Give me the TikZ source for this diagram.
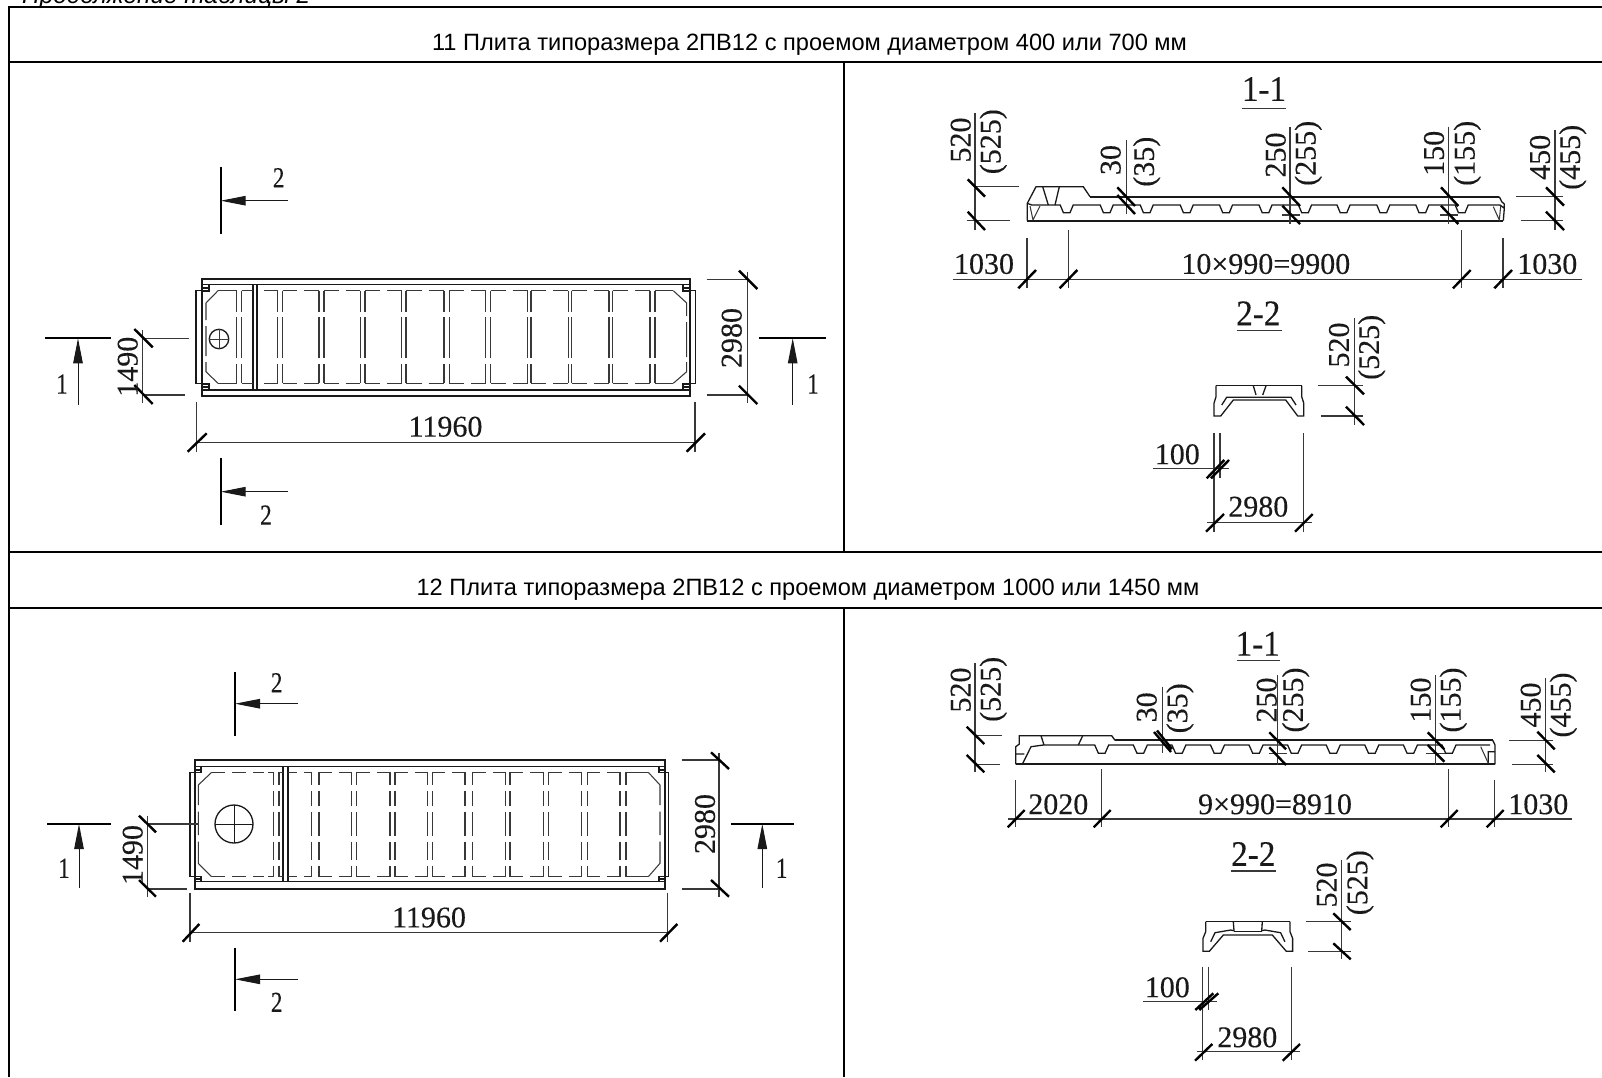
\documentclass[tikz,border=0pt]{standalone}
\usepackage{fontspec}
\setmainfont[FakeBold=0.25]{Liberation Serif}
\newfontfamily\sansf{Liberation Sans}
\usetikzlibrary{arrows.meta}
\definecolor{ink}{gray}{0.1}
\definecolor{soft}{gray}{0.22}
\newcount\lblno
\tikzset{
 frame/.style={line width=1.5pt,draw=black},
 dimline/.style={line width=1.1pt,draw=soft},
 tick/.style={line width=2.4pt,draw=black},
 part/.style={line width=1.3pt,draw=ink,line join=miter},
 partthick/.style={line width=1.7pt,draw=ink,line join=miter},
 thin part/.style={line width=1.05pt,draw=soft},
 secbar/.style={line width=2pt,draw=black},
 secarrow/.style={line width=1pt,draw=ink,-{Triangle[length=25pt,width=9.5pt]}},
 dimtxt/.style={inner sep=0pt,font=\fontsize{30}{30}\selectfont,text=ink},
 sectxt/.style={inner sep=0pt,font=\fontsize{29}{29}\selectfont,text=ink,xscale=.8},
 headtxt/.style={inner sep=0pt,font=\fontsize{36}{36}\selectfont,text=ink,xscale=.92},
 titletxt/.style={inner sep=0pt,font=\sansf\fontsize{23.6}{28}\selectfont,text=black},
 captxt/.style={inner sep=0pt,anchor=base west,font=\sansf\itshape\fontsize{24.3}{28}\selectfont,text=black},
}
\newcommand\lbl[3]{\global\advance\lblno by 1 \node[dimtxt] (lbl\the\lblno) at (#1,#2) {#3};}
\newcommand\vlbl[3]{\global\advance\lblno by 1 \node[dimtxt,rotate=90] (lbl\the\lblno) at (#1,#2) {#3};}
\newcommand\seclbl[3]{\global\advance\lblno by 1 \node[sectxt] (lbl\the\lblno) at (#1,#2) {#3};}
\newcommand\headlbl[3]{\global\advance\lblno by 1 \node[headtxt] (lbl\the\lblno) at (#1,#2) {#3};}
\begin{document}
\begin{tikzpicture}[x=1pt,y=-1pt]
\useasboundingbox (0,0) rectangle (1602,1077);
\clip (0,0) rectangle (1602,1077);
\fill[white] (0,0) rectangle (1602,1077);
% ---------- caption and table
\node[captxt] (cap) at (22,3.3) {Продолжение таблицы 2};
\draw[frame] (9,1077)--(9,7)--(1602,7);
\draw[frame] (9,62)--(1602,62) (9,552)--(1602,552) (9,608)--(1602,608);
\draw[frame] (844,62)--(844,552) (844,608)--(844,1077);
\node[titletxt] (title1) at (809.5,45) {11 Плита типоразмера 2ПВ12 с проемом диаметром 400 или 700 мм};
\node[titletxt] (title2) at (808,590) {12 Плита типоразмера 2ПВ12 с проемом диаметром 1000 или 1450 мм};
% ---------- PLAN 1
\draw[partthick] (202,279.3) rectangle (690,395.7);
\draw[part] (202,284.7)--(690,284.7) (202,390)--(690,390);
\draw[part] (202,290.7)--(196,290.7)--(196,383.3)--(202,383.3);
\draw[part] (690,290.7)--(695.7,290.7)--(695.7,383.3)--(690,383.3);
\draw[part] (202,291)--(209,291)--(209,285) (202,288)--(209,288);
\draw[part] (202,384)--(209,384)--(209,390) (202,387)--(209,387);
\draw[part] (690,291)--(683,291)--(683,285) (690,288)--(683,288);
\draw[part] (690,384)--(683,384)--(683,390) (690,387)--(683,387);
\draw[partthick] (252.7,285)--(252.7,390) (257.3,285)--(257.3,390);
\foreach \yy in {290.7,383.3}{
  \draw[thin part] (218,\yy)--(236.7,\yy) (241.7,\yy)--(252.7,\yy) (264,\yy)--(277.7,\yy) (655,\yy)--(673.3,\yy);
  \foreach \a/\b in {282.7/319,324/360.3,365/401.7,406/444,449.3/485.7,490.7/527.7,531/568.3,571.7/609,612.7/650}{
    \draw[thin part] (\a,\yy)--({(\a+\b)/2-3.5},\yy) ({(\a+\b)/2+3.5},\yy)--(\b,\yy);
  }
}
\foreach \xx in {236.7,241.7,277.7,282.7,319,324,360.3,365,401.7,406,444,449.3,485.7,490.7,527.7,531,568.3,571.7,609,612.7,650,655}{
  \draw[thin part] (\xx,290.7)--(\xx,311.7) (\xx,317.3)--(\xx,358.3) (\xx,364)--(\xx,383.3);
}
\draw[thin part] (218,290.7)--(206,303)--(206,320) (206,326)--(206,356) (206,362)--(206,371.7)--(218,383.3);
\draw[thin part] (673.3,290.7)--(686.7,303)--(686.7,316) (686.7,322)--(686.7,357) (686.7,362)--(686.7,371.7)--(673.3,383.3);
\draw[part] (219,339) circle (9.7);
\draw[line width=.5pt,draw=soft] (209.3,339)--(228.7,339) (219,329.3)--(219,348.7);
% section marks plan 1
\draw[secbar] (45,338.3)--(111,338.3) (759.3,338.3)--(826,338.3);
\draw[secarrow] (78,405)--(78,338.3);
\draw[secarrow] (792.7,405)--(792.7,338.3);
\seclbl{62}{384}{1} \seclbl{813}{384}{1}
\draw[secbar] (220.7,166.7)--(220.7,234) (220.7,458.3)--(220.7,525);
\draw[secarrow] (288,200.7)--(220.7,200.7);
\draw[secarrow] (288,491.7)--(220.7,491.7);
\seclbl{278.7}{177.7}{2} \seclbl{266}{515}{2}
% dims plan 1
\draw[dimline] (142.7,330)--(142.7,403) (142.7,338.3)--(189.3,338.3) (142.7,395)--(185,395);
\draw[tick] (134.3,329)--(152.7,347.3) (134.3,385)--(152.7,404);
\vlbl{127.7}{366.7}{1490}
\draw[dimline] (196.7,442.3)--(695,442.3) (196.7,401.7)--(196.7,451.7) (695,401.7)--(695,451.7);
\draw[tick] (187.7,451.7)--(206.7,433.3) (686.7,451.7)--(705,433.3);
\lbl{445.5}{426.7}{11960}
\draw[dimline] (747.3,271.7)--(747.3,403.3) (706.7,279.3)--(747.3,279.3) (706.7,395)--(747.3,395);
\draw[tick] (739,270.7)--(757.3,289) (739,385.7)--(757.3,404);
\vlbl{731.7}{338}{2980}
% ---------- SECTION 1-1 top
\headlbl{1264}{89}{1-1}
\draw[dimline] (1241.7,108.3)--(1286,108.3);
\draw[partthick] (1026.7,220.7)--(1503.3,220.7);
\draw[partthick] (1090,196.7)--(1499.3,196.7);
\draw[part] (1027.3,220.7)--(1027.3,203.3)--(1036,186.7)--(1083.3,186.7)--(1090,196.7);
\draw[part] (1042.7,186.7)--(1048.3,205) (1059.3,186.7)--(1055,205);
\draw[part] (1027.3,203.3)--(1031.7,205) \foreach \n in {1066.7,1106.7,1146.7,1186.7,1226,1265.5,1305,1343.5,1383.3,1422.3,1461.7}{ --(\n-6.5,205)--(\n-3.3,212.7)--(\n+3.3,212.7)--(\n+6.5,205)} --(1500,205);
\draw[thin part] (1030,206)--(1033,220) (1040,206)--(1033,220);
\draw[part] (1499.3,196.7)--(1501.7,201.7)--(1504.3,204)--(1504.3,208.3)--(1503.3,220.7) (1500,205)--(1504.3,208.3);
\draw[thin part] (1493.3,206.7)--(1499.3,220)--(1500.7,206);
% dims
\draw[dimline] (975,113.3)--(975,230) (975,186.7)--(1019.3,186.7) (966.7,220.7)--(1010,220.7);
\draw[tick] (967.7,179.3)--(985,196.7) (967.7,211.7)--(985,230);
\vlbl{960.7}{140}{520} \vlbl{993.3}{141.7}{(525)}
\draw[dimline] (1126.7,140)--(1126.7,214);
\draw[tick] (1117.3,187.3)--(1135,206) (1117.3,195)--(1135,214);
\vlbl{1110.7}{160}{30} \vlbl{1146.7}{161.7}{(35)}
\draw[dimline] (1290,126.7)--(1290,224) (1282,215)--(1300,215);
\draw[tick] (1282.3,187.3)--(1300,206) (1282.3,205.7)--(1300,224);
\vlbl{1275.7}{155}{250} \vlbl{1308.3}{153.3}{(255)}
\draw[dimline] (1448.7,126.7)--(1448.7,224) (1440,215)--(1458,215);
\draw[tick] (1441,187.3)--(1458.3,206) (1441,205.7)--(1458.3,224);
\vlbl{1434}{153.3}{150} \vlbl{1467.3}{153.3}{(155)}
\draw[dimline] (1555,130)--(1555,230) (1515.7,196.7)--(1563.3,196.7) (1520.7,220.7)--(1563.3,220.7);
\draw[tick] (1546,187.3)--(1564,205.7) (1546,211.7)--(1564,230);
\vlbl{1540}{157.3}{450} \vlbl{1572.7}{157.3}{(455)}
\draw[dimline] (952.7,279.3)--(1581.7,279.3) (1027,238.3)--(1027,288.3) (1068.3,230)--(1068.3,288.3) (1461.7,230)--(1461.7,288.3) (1503,238.3)--(1503,288.3);
\draw[tick] (1018.3,288.3)--(1036,270) (1059.6,288.3)--(1077.3,270) (1453,288.3)--(1470.7,270) (1494.3,288.3)--(1512,270);
\lbl{984}{264}{1030} \lbl{1265.8}{264}{10×990=9900} \lbl{1547.3}{264}{1030}
% ---------- SECTION 2-2 top
\headlbl{1258.3}{313.3}{2-2}
\draw[dimline] (1236.7,330.7)--(1282.3,330.7);
\draw[part] (1216,385.7)--(1301.7,385.7);
\draw[part] (1216,385.7)--(1216,396.7)--(1214,403.3)--(1214,416)--(1220.7,416)--(1233.3,400)--(1285.7,400)--(1297.7,416)--(1303.7,416)--(1303.7,403)--(1301.7,396.7)--(1301.7,385.7);
\draw[part] (1221.7,405)--(1226.7,397.3)--(1236,397.3)--(1282.7,397.3)--(1291,397.3)--(1296,405);
\draw[part] (1253.3,385.7)--(1256,395) (1266,385.7)--(1262.7,395);
\draw[dimline] (1354.3,318.3)--(1354.3,425) (1318.3,385.7)--(1363.3,385.7) (1320.7,416)--(1363.3,416);
\draw[tick] (1346,376.7)--(1364,394.3) (1346,406.7)--(1364,425);
\vlbl{1339}{345}{520} \vlbl{1371.7}{347.3}{(525)}
\draw[dimline] (1214,433.3)--(1214,531.7) (1220,433.3)--(1220,478.3) (1303.3,433.3)--(1303.3,531.7) (1153.3,468.3)--(1229,468.3) (1207,522.3)--(1311.7,522.3);
\draw[tick] (1206.7,478.3)--(1224.3,460) (1211,478.3)--(1229,460) (1206,531.7)--(1224,514) (1295,531.7)--(1312.7,514);
\lbl{1177.3}{454.3}{100} \lbl{1258.3}{506.7}{2980}
% ---------- PLAN 2
\draw[partthick] (195,760) rectangle (665,889);
\draw[part] (195,766.7)--(665,766.7) (195,881.7)--(665,881.7);
\draw[part] (195,772.3)--(190,772.3)--(190,876.7)--(195,876.7);
\draw[part] (665,772.3)--(668.3,772.3)--(668.3,876.7)--(665,876.7);
\draw[part] (195,772.5)--(201,772.5)--(201,767) (195,770)--(201,770);
\draw[part] (195,876.5)--(201,876.5)--(201,882) (195,879)--(201,879);
\draw[part] (665,772.5)--(659,772.5)--(659,767) (665,770)--(659,770);
\draw[part] (665,876.5)--(659,876.5)--(659,882) (665,879)--(659,879);
\draw[partthick] (283.3,766.7)--(283.3,881.7) (288.3,766.7)--(288.3,881.7);
\foreach \yy in {772.3,876.7}{
  \draw[thin part] (211.7,\yy)--(225,\yy) (232,\yy)--(246,\yy) (253,\yy)--(264,\yy) (268,\yy)--(273.3,\yy) (279,\yy)--(283.3,\yy) (626,\yy)--(648.3,\yy);
  \foreach \a/\b in {288.3/311.7,319/351.7,356.7/390,395/427.3,432.3/465,472.7/505.7,510/543.3,548.3/581.7,587.3/620}{
    \draw[thin part] (\a,\yy)--({(\a+\b)/2-3.5},\yy) ({(\a+\b)/2+3.5},\yy)--(\b,\yy);
  }
}
\foreach \xx in {273.3,279,311.7,319,351.7,356.7,390,395,427.3,432.3,465,472.7,505.7,510,543.3,548.3,581.7,587.3,620,626}{
  \draw[thin part] (\xx,772.3)--(\xx,785) (\xx,790.7)--(\xx,805.7) (\xx,811.7)--(\xx,835.7) (\xx,841.7)--(\xx,860) (\xx,865.7)--(\xx,876.7);
}
\draw[thin part] (211.7,772.3)--(198.3,785)--(198.3,805) (198.3,811.7)--(198.3,835) (198.3,841.7)--(198.3,863.3)--(211.7,876.7);
\draw[thin part] (648.3,772.3)--(660,785)--(660,805) (660,811.7)--(660,835) (660,841.7)--(660,863.3)--(648.3,876.7);
\draw[part] (234,824) circle (19);
\draw[line width=.6pt,draw=ink] (215,824)--(253,824) (234,805)--(234,843);
% section marks plan 2
\draw[secbar] (47.3,824)--(111,824) (730.7,824)--(794.3,824);
\draw[secarrow] (79,887.7)--(79,824);
\draw[secarrow] (762.3,887.7)--(762.3,824);
\seclbl{64}{868.3}{1} \seclbl{781.7}{868.3}{1}
\draw[secbar] (235,672.3)--(235,735.7) (235,948.3)--(235,1011);
\draw[secarrow] (297.7,703.7)--(235,703.7);
\draw[secarrow] (297.7,979.3)--(235,979.3);
\seclbl{276.7}{682.7}{2} \seclbl{276.7}{1002.3}{2}
% dims plan 2
\draw[dimline] (147.7,815.7)--(147.7,896.7) (147.7,824)--(198,824) (147.7,889)--(186.7,889);
\draw[tick] (139,815.7)--(156,832.3) (139,880)--(156,896.7);
\vlbl{132.7}{855}{1490}
\draw[dimline] (190,932.3)--(667.7,932.3) (190,892.7)--(190,941.7) (667.7,892.7)--(667.7,941.7);
\draw[tick] (182.7,941.7)--(199.3,924) (660,941.7)--(677.3,924);
\lbl{429}{917.5}{11960}
\draw[dimline] (719,753.3)--(719,896.7) (681.7,760)--(719,760) (681.7,889)--(719,889);
\draw[tick] (711,752.3)--(729,769) (711,880)--(729,896.7);
\vlbl{705}{824}{2980}
% ---------- SECTION 1-1 bottom
\headlbl{1257.7}{643.7}{1-1}
\draw[dimline] (1236.7,660.7)--(1280,660.7);
\draw[partthick] (1015.7,764.3)--(1495,764.3);
\draw[partthick] (1115,740.3)--(1492.7,740.3);
\draw[part] (1015.7,764.3)--(1015.7,746.7)--(1019.3,744)--(1019.3,735.7)--(1111.7,735.7)--(1115,740.3);
\draw[part] (1041,735.7)--(1044,745) (1082.7,735.7)--(1078.3,745) (1015.7,754)--(1024.3,754);
\draw[part] (1022.3,764.3)--(1031,746.7)--(1043.3,745)--(1078.3,745) \foreach \n in {1101.7,1140.3,1178.9,1217.5,1256,1294.6,1333.2,1371.8,1410.4,1449}{ --(\n-7,745)--(\n-3.3,753.3)--(\n+3.3,753.3)--(\n+7,745)} --(1490,745);
\draw[part] (1492.7,740.3)--(1495,745)--(1495,764.3) (1488.3,763.3)--(1488.3,751.7)--(1495,751.7);
\draw[thin part] (1480.7,746.7)--(1488.3,763.3);
% dims
\draw[dimline] (975,663.3)--(975,772.3) (975,735.7)--(1002.3,735.7) (975,764.3)--(1000,764.3);
\draw[tick] (966.7,726.7)--(984.3,744) (966.7,755)--(984.3,772.3);
\vlbl{960.7}{690}{520} \vlbl{993.3}{689.3}{(525)}
\draw[dimline] (1162.3,686.7)--(1162.3,753.3);
\draw[tick] (1154,732)--(1171,752) (1157,730.5)--(1172,749);
\vlbl{1146.7}{707.3}{30} \vlbl{1180}{708.3}{(35)}
\draw[dimline] (1277.3,675)--(1277.3,765) (1269,753.3)--(1287,753.3);
\draw[tick] (1269.3,732.3)--(1286,749.3) (1269.3,747.3)--(1286,765);
\vlbl{1266.7}{700}{250} \vlbl{1295.7}{700}{(255)}
\draw[dimline] (1435.3,675)--(1435.3,765) (1426,753.3)--(1445,753.3);
\draw[tick] (1427.7,732.3)--(1444.3,749.3) (1427.7,745)--(1444.3,761.7);
\vlbl{1420.7}{700}{150} \vlbl{1453.3}{700}{(155)}
\draw[dimline] (1545.7,678.3)--(1545.7,772.3) (1509.3,740.3)--(1553.3,740.3) (1512.3,764.3)--(1553.3,764.3);
\draw[tick] (1537.3,731.7)--(1554.7,749.3) (1537.3,755)--(1554.7,772.3);
\vlbl{1530.7}{705}{450} \vlbl{1563.3}{705}{(455)}
\draw[dimline] (1008.3,819)--(1571.7,819) (1015.7,780)--(1015.7,827.3) (1101.7,769)--(1101.7,827.3) (1448.7,769)--(1448.7,827.3) (1494.7,780)--(1494.7,827.3);
\draw[tick] (1007.7,827.3)--(1024.7,810) (1093.7,827.3)--(1110.7,810) (1440.7,827.3)--(1457.7,810) (1486.7,827.3)--(1503.7,810);
\lbl{1058.3}{804.3}{2020} \lbl{1275}{804.3}{9×990=8910} \lbl{1538.3}{804.3}{1030}
% ---------- SECTION 2-2 bottom
\headlbl{1253.3}{854}{2-2}
\draw[dimline] (1231,871)--(1276,871);
\draw[part] (1205.7,921.7)--(1290,921.7);
\draw[part] (1205.7,921.7)--(1205.7,931.7)--(1203,938.3)--(1203,951.3)--(1209.3,951.3)--(1223.3,935)--(1272.3,935)--(1286.3,951.3)--(1292.6,951.3)--(1292.6,938.3)--(1290,931.7)--(1290,921.7);
\draw[part] (1210.7,941.7)--(1215,932.7)--(1230.7,930)--(1234,930.7)--(1233.3,921.7);
\draw[part] (1284.9,941.7)--(1280.6,932.7)--(1264.9,930)--(1261.7,930.7)--(1262.3,921.7);
\draw[part] (1234,931.7)--(1261.7,931.7);
\draw[dimline] (1341.7,860)--(1341.7,959.3) (1305.7,921.7)--(1350.7,921.7) (1308.3,951.3)--(1350.7,951.3);
\draw[tick] (1333.3,913.3)--(1350.7,930) (1333.3,943.3)--(1350.7,959.3);
\vlbl{1326.7}{885}{520} \vlbl{1360}{882.7}{(525)}
\draw[dimline] (1202.7,966.7)--(1202.7,1060) (1208.7,966.7)--(1208.7,1010) (1291.3,966.7)--(1291.3,1060) (1143.3,1001.7)--(1216.7,1001.7) (1196.7,1051.7)--(1300,1051.7);
\draw[tick] (1195.3,1010)--(1213.3,993.3) (1199.3,1010)--(1218.3,993.3) (1195,1060.7)--(1212.3,1044) (1282.7,1060.7)--(1300,1044);
\lbl{1167.3}{987.3}{100} \lbl{1247.3}{1037.3}{2980}
\end{tikzpicture}
\end{document}
